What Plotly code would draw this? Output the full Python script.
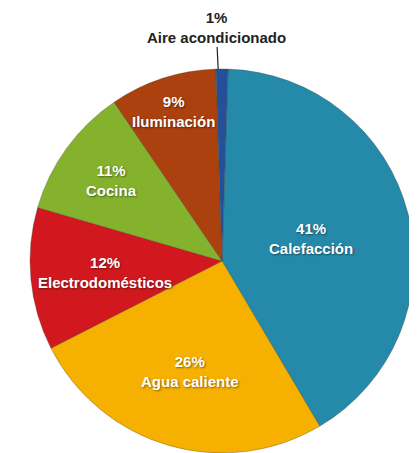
import math
import plotly.graph_objects as go

labels = ["Calefacción", "Agua caliente", "Electrodomésticos", "Cocina", "Iluminación", "Aire acondicionado"]
values = [41, 26, 12, 11, 9, 1]
colors = ["#2589aa", "#f6b000", "#d0181e", "#84b22c", "#aa410e", "#24509a"]

ROTATION = 1.8
# radial placement of the inside labels (fraction of radius), per slice
label_radius = [0.48, 0.60, 0.61, 0.71, 0.82, None]

FONT = "Liberation Sans, Arial"
SHADOW = "1px 1px 2px rgba(0,0,0,0.45)"

fig = go.Figure(go.Pie(
    labels=labels,
    values=values,
    textinfo="none",
    marker=dict(colors=colors, line=dict(width=0.6, color="rgba(60,60,40,0.5)")),
    sort=False,
    direction="clockwise",
    rotation=ROTATION,
    showlegend=False,
    hoverinfo="skip",
))

total = sum(values)
start = ROTATION
for v, l, f in zip(values, labels, label_radius):
    span = 360 * v / total
    mid = math.radians(start + span / 2)
    start += span
    if f is None:
        continue
    fig.add_annotation(
        x=0.5 + 0.5 * f * math.sin(mid), y=0.5 + 0.5 * f * math.cos(mid),
        xref="paper", yref="paper", showarrow=False,
        xanchor="center", yanchor="middle",
        text=f"{v}%<br>{l}",
        font=dict(family=FONT, size=15, color="white", weight="bold", shadow=SHADOW),
    )

fig.add_annotation(
    x=0.49, y=1, xref="paper", yref="paper",
    text=f"{values[-1]}%<br>{labels[-1]}",
    showarrow=True, arrowhead=0, arrowwidth=1.2, arrowcolor="#222",
    ax=-2, ay=-42,
    font=dict(family=FONT, size=15, color="#222", weight="bold"),
)

fig.update_layout(
    width=409, height=445,
    margin=dict(l=22, r=3, t=61, b=0),
    paper_bgcolor="white", plot_bgcolor="white",
)

fig.write_html("out.html")
